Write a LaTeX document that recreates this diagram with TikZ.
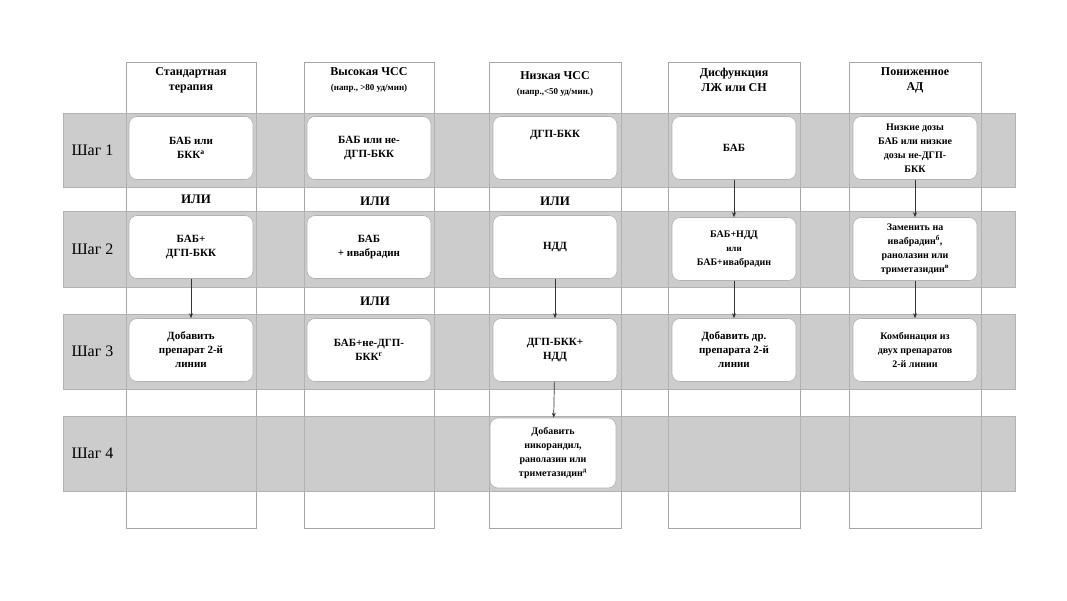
\documentclass[tikz,border=0pt]{standalone}
\usepackage{fontspec}
\usetikzlibrary{arrows.meta}
\setmainfont{Liberation Serif}
\newcommand{\sps}[1]{\textsuperscript{#1}}
\begin{document}
\begin{tikzpicture}[x=1pt,y=-1pt,
 col/.style={draw=gray!70,fill=white,line width=0.6pt},
 band/.style={draw=gray!60,fill=gray!40,line width=0.6pt},
 rbox/.style={draw=gray!60,fill=white,rounded corners=8pt,line width=0.6pt,minimum width=124pt,minimum height=63pt,align=center,font=\bfseries\fontsize{11}{14}\selectfont,inner sep=1pt},
 hdr/.style={align=center,font=\bfseries\fontsize{12}{15}\selectfont},
 shag/.style={font=\fontsize{16}{18}\selectfont,anchor=west},
 ili/.style={font=\bfseries\fontsize{13}{15}\selectfont},
 arr/.style={-{Stealth[length=5pt,width=4pt]},draw=gray!40!black,line width=0.7pt}]
\useasboundingbox (0,0) rectangle (1067,600);
\foreach \a/\b in {126/256,304/434,489/621,668/800,849/981}{\draw[col] (\a,62) rectangle (\b,528);}
\foreach \t/\u in {113/187,211/287,314/389,416/491}{\draw[band] (63,\t) rectangle (1015,\u);}
\foreach \a/\b in {126/256,304/434,489/621,668/800,849/981}{\foreach \t/\u in {113/187,211/287,314/389,416/491}{\draw[gray!60,line width=0.6pt] (\a,\t) -- (\a,\u) (\b,\t) -- (\b,\u);}}
\node[shag] (s1) at (68,150) {Шаг 1};
\node[shag] (s2) at (68,249) {Шаг 2};
\node[shag] (s3) at (68,351) {Шаг 3};
\node[shag] (s4) at (68,453) {Шаг 4};
\node[hdr] (h1) at (191,80) {Стандартная\\терапия};
\node[hdr] (h2) at (369,80) {Высокая ЧСС\\{\fontsize{9}{11}\selectfont (напр., >80 уд/мин)}};
\node[hdr] (h3) at (555,84) {Низкая ЧСС\\{\fontsize{9}{11}\selectfont (напр.,<50 уд/мин.)}};
\node[hdr] (h4) at (734,80) {Дисфункция\\ЛЖ или СН};
\node[hdr] (h5) at (915,80) {Пониженное\\АД};
\node[rbox] (a1) at (191,148) {БАБ или\\БКК\sps{а}};
\node[rbox] (a2) at (369,148) {БАБ или не-\\ДГП-БКК};
\node[rbox] (a3) at (555,148) {ДГП-БКК\\[14pt]};
\node[rbox] (a4) at (734,148) {БАБ};
\node[rbox] (a5) at (915,148) {\fontsize{10}{13}\selectfont Низкие дозы\\\fontsize{10}{13}\selectfont БАБ или низкие\\\fontsize{10}{13}\selectfont дозы не-ДГП-\\\fontsize{10}{13}\selectfont БКК};
\node[rbox] (b1) at (191,247) {БАБ+\\ДГП-БКК};
\node[rbox] (b2) at (369,247) {БАБ\\+ ивабрадин};
\node[rbox] (b3) at (555,247) {НДД};
\node[rbox] (b4) at (734,249) {\fontsize{10}{12}\selectfont БАБ+НДД\\\fontsize{9}{11}\selectfont или\\\fontsize{10}{12}\selectfont БАБ+ивабрадин};
\node[rbox] (b5) at (915,249) {\fontsize{10}{13}\selectfont Заменить на\\\fontsize{10}{13}\selectfont ивабрадин\sps{б},\\\fontsize{10}{13}\selectfont ранолазин или\\\fontsize{10}{13}\selectfont триметазидин\sps{в}};
\node[rbox] (c1) at (191,350) {Добавить\\препарат 2-й\\линии};
\node[rbox] (c2) at (369,350) {БАБ+не-ДГП-\\БКК\sps{г}};
\node[rbox] (c3) at (555,350) {ДГП-БКК+\\НДД};
\node[rbox] (c4) at (734,350) {Добавить др.\\препарата 2-й\\линии};
\node[rbox] (c5) at (915,350) {\fontsize{10}{13}\selectfont Комбинация из\\\fontsize{10}{13}\selectfont двух препаратов\\\fontsize{10}{13}\selectfont 2-й линии};
\node[rbox,minimum width=126pt,minimum height=70pt] (d3) at (553,453) {\fontsize{10}{13}\selectfont Добавить\\\fontsize{10}{13}\selectfont никорандил,\\\fontsize{10}{13}\selectfont ранолазин или\\\fontsize{10}{13}\selectfont триметазидин\sps{д}};
\node[ili] (o1) at (196,199) {ИЛИ};
\node[ili] (o2) at (375,201) {ИЛИ};
\node[ili] (o3) at (555,201) {ИЛИ};
\node[ili] (o4) at (375,301) {ИЛИ};
\draw[arr] (a4) -- (b4);
\draw[arr] (a5) -- (b5);
\draw[arr] (b1) -- (c1);
\draw[arr] (b3) -- (c3);
\draw[arr] (b4) -- (c4);
\draw[arr] (b5) -- (c5);
\draw[arr] (c3) -- (d3);
\end{tikzpicture}
\end{document}
